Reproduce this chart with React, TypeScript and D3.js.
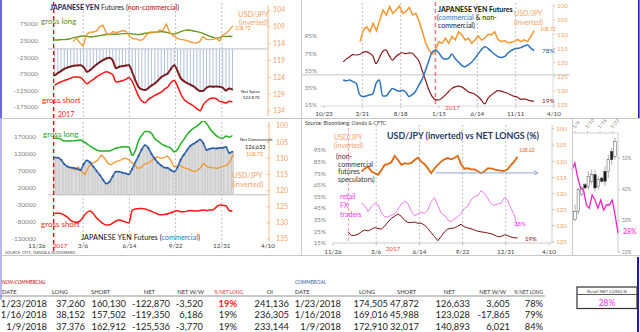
import React from "react";
import * as d3 from "d3";

const FONT = "Lato, 'Liberation Sans', Arial, sans-serif";
const parse = d3.timeParse("%Y-%m-%d") as (s: string) => Date;
const fmtMD = d3.timeFormat("%-m/%-d");

// ---------- NON-COMMERCIAL (weekly, thousands of contracts) ----------
const ncWeekStart = "2017-01-03";
const ncNet = [-80, -73, -67, -60, -56, -53, -51, -50, -49, -55, -69, -64, -55, -47, -40, -34, -29, -27, -35, -58, -54, -52, -50, -49, -70, -95, -115, -122, -124, -118, -110, -104, -95, -85, -79, -74, -60, -49, -66, -88, -97, -103, -108, -113, -121, -127, -126, -117, -113, -114, -113, -114, -117, -125.5, -119.4, -122.9];
const ncShort = [-110, -104, -99, -95, -92, -88, -85, -85, -86, -95, -105, -98, -92, -84, -78, -73, -69, -72, -78, -100, -98, -96, -92, -86, -98, -120, -143, -157, -162, -152, -146, -140, -135, -130, -121, -115, -101, -95, -112, -135, -152, -160, -166, -172, -180, -186, -168, -157, -150, -148, -150, -158, -160, -162.9, -157.5, -160.1];
const ncLong = [27, 27, 28, 28, 29, 31, 34, 36, 38, 39, 38, 36, 37, 38, 40, 42, 43, 44, 44, 44, 45, 46, 46, 46, 45, 44, 43, 45, 47, 48, 49, 50, 51, 52, 51, 49, 46, 45, 48, 52, 55, 57, 56, 54, 52, 50, 46, 42, 38, 35, 32, 34, 38, 37.4, 38.2, 37.3];
const ncUsdJpyRange = ["2017-02-12", "2018-01-24"];
const ncUsdJpy = [113.4, 112.4, 113.7, 114.7, 111.4, 110.6, 110.6, 110.3, 109.0, 108.5, 110.9, 111.4, 110.4, 110.7, 110.4, 110.1, 110.4, 111.9, 112.6, 112.6, 113.0, 112.8, 111.4, 110.6, 110.5, 110.7, 109.9, 110.1, 108.2, 110.6, 111.6, 112.2, 112.7, 112.8, 113.0, 113.4, 113.7, 113.8, 113.4, 111.9, 112.7, 112.8, 112.7, 112.4, 113.2, 111.4, 110.9, 109.9, 108.7];

// ---------- COMMERCIAL (weekly, thousands) ----------
const cmNet = [110, 109, 103, 90, 83, 80, 79, 76, 73, 90, 101, 95, 83, 70, 58, 44, 33, 38, 55, 68, 68, 65, 63, 60, 76, 96, 115, 134, 146, 138, 120, 106, 94, 86, 80, 79, 72, 68, 80, 103, 118, 132, 144, 150, 156, 162, 152, 132, 135, 137, 136, 138, 138, 140.9, 123.0, 126.6];
const cmLong = [166, 166, 163, 158, 158, 158, 159, 160, 161, 156, 150, 143, 137, 132, 129, 129, 129, 129, 133, 137, 139, 141, 141, 140, 116, 130, 160, 175, 186, 186, 180, 165, 158, 150, 145, 141, 137, 126, 133, 150, 163, 177, 188, 196, 202, 210, 218, 210, 195, 183, 174, 168, 166, 172.9, 169.0, 174.5];
const cmShort = [-54, -54, -55, -60, -66, -75, -80, -81, -76, -63, -52, -48, -56, -68, -77, -85, -89, -88, -83, -77, -74, -77, -80, -83, -46, -42, -41, -40, -42, -45, -49, -53, -57, -59, -58, -56, -53, -49, -47, -50, -50, -48, -46, -47, -48, -46, -45, -46, -45, -44, -36, -30, -31, -32.0, -46.0, -47.9];
const cmUsdJpyRange = ["2017-02-09", "2018-01-25"];
const cmUsdJpy = [113.1, 113.6, 112.6, 114.1, 115.0, 112.9, 111.6, 111.2, 110.5, 109.0, 110.0, 111.6, 112.0, 111.2, 110.9, 110.5, 109.9, 110.3, 111.0, 112.0, 113.1, 112.9, 111.9, 111.5, 111.0, 110.0, 109.5, 110.0, 109.8, 109.3, 110.5, 112.6, 112.3, 112.3, 112.9, 113.2, 113.6, 114.1, 113.8, 113.0, 111.6, 112.6, 112.8, 113.0, 113.1, 112.8, 112.4, 112.1, 111.0, 108.7];

// ---------- TOP RIGHT: % net long, 2016-2018 ----------
const trRange = ["2016-01-06", "2018-01-22"];
const trNonComm = [65, 68.5, 71, 73.5, 73, 73.5, 76, 77, 75, 72, 63, 69.8, 77, 78.8, 72, 67, 71, 74, 75.6, 74.5, 75.5, 75, 71, 66, 55, 44, 33, 25, 21.3, 20.8, 23, 26.5, 30.4, 34, 36, 37, 36, 33.5, 30.4, 29, 27.5, 24.6, 20.8, 16.2, 22.8, 26.5, 29.5, 31.6, 31, 29.8, 28.6, 26.5, 25, 24, 21.5, 22, 21, 19.8, 19.4];
const trComm = [44, 43, 44, 42, 40, 27, 24.6, 25.5, 26.5, 28, 40, 44, 25.4, 25.4, 30, 34, 32.4, 31, 32, 30, 25, 27, 31, 38, 45, 55, 66, 76, 78.5, 76, 70, 68, 69, 74, 69, 65, 61, 59.4, 61.5, 64.5, 69, 74, 79, 82.6, 80.7, 77, 74, 71, 70, 71, 75, 78, 80, 80.7, 81.5, 83.5, 84.6, 81, 78];
const trUsdJpyRange = ["2016-03-12", "2018-01-22"];
const trUsdJpy = [112.6, 108.5, 107.3, 109.1, 106.1, 108.8, 105, 101.4, 103.2, 100.2, 102.6, 101.4, 100.0, 102.6, 102.0, 100.5, 103.2, 102.6, 105.5, 109.1, 113.2, 115.5, 117.0, 115.5, 112.6, 113.2, 111.4, 113.2, 110.8, 112.0, 109.1, 110.2, 112.0, 111.4, 113.2, 112.0, 110.6, 112.0, 111.4, 110.0, 110.2, 109.1, 111.8, 112.6, 112.2, 113.0, 112.8, 112.6, 111.8, 112.6, 112.0, 112.6, 110.8, 108.7];

// ---------- BOTTOM RIGHT: USD/JPY vs net longs ----------
const brRange = ["2017-01-31", "2018-01-27"];
const brUsdJpy = [113.2, 112.2, 111.7, 113.2, 113.7, 114.2, 112.7, 111.1, 110.8, 110.3, 108.3, 109.6, 111.1, 110.6, 110.8, 110.5, 109.6, 108.9, 110.1, 110.9, 112.2, 113.7, 112.2, 111.1, 110.1, 109.4, 109.0, 109.4, 109.0, 108.3, 110.9, 112.3, 112.1, 112.5, 112.5, 113.0, 113.7, 113.2, 112.2, 112.2, 112.5, 112.7, 113.0, 113.0, 112.5, 111.2, 110.1, 108.6];
const brRetail = [49.1, 47, 42, 46.2, 49, 48, 41, 37.5, 37.5, 39, 40, 44, 48.5, 51, 49, 42.5, 38.3, 40, 41.5, 40.5, 43.4, 50.6, 54, 47.5, 40.5, 39, 34.8, 33.4, 35.9, 37.5, 40.5, 44.8, 46.5, 52, 55, 55.5, 60, 58, 53.5, 49, 47.5, 48.5, 49, 54, 52, 45, 39.5, 29];
const brNonCommRange = ["2016-12-31", "2018-01-27"];
const brNonComm = [24.7, 21.3, 21.7, 22.5, 24.7, 26.2, 25.4, 26.8, 28.3, 27.5, 26.9, 29.5, 33, 36.2, 38, 40, 38, 34.5, 32.7, 32.7, 33, 32, 32, 30.5, 27.5, 24, 20.5, 17, 20.5, 24.5, 27, 27.6, 28, 29.5, 31.1, 29, 28, 27.3, 26.2, 25.2, 24.6, 24.2, 23.6, 23, 21.9, 20.5, 20.5, 22, 21.5, 20.2, 19.5, 19.4];
const arrowStart = "2017-07-22";
const arrowEnd = "2018-03-15";
const arrowLevel = 113.6;

// ---------- CANDLE INSET (January 2018) ----------
const insetDates = ["1/4", "1/10", "1/16", "1/22"];
const insetRetail = [48.2, 50.4, 45.6, 42.4, 41.8, 37, 36, 40.2, 38.6, 36, 38.6, 35.4, 37, 37, 38.6, 33.8, 28];
const candleBodyLo = [113.0, 111.7, 111.6, 111.4, 110.9, 110.8, 110.8, 111.1, 111.0, 110.6, 109.9, 109.4, 108.8];
const candleBodyHi = [113.5, 113.0, 112.0, 111.6, 111.5, 111.2, 111.6, 111.5, 111.2, 111.2, 110.6, 109.9, 109.7];
const candleWickLo = [112.6, 111.6, 111.5, 111.3, 110.6, 110.5, 110.5, 110.9, 110.9, 110.3, 109.6, 109.2, 108.6];
const candleWickHi = [113.6, 113.2, 112.1, 111.7, 111.7, 111.4, 111.8, 111.7, 111.3, 111.5, 111.0, 110.2, 109.9];
const candleDark = [false, false, false, true, false, false, true, false, true, true, false, true, false];
const insetPctTicks = [52, 42, 32, 22];

// ---------- TABLE ----------
const tblDates = ["1/23/2018", "1/16/2018", "1/9/2018"];
const ncTLong = ["37,260", "38,152", "37,376"];
const ncTShort = ["160,130", "157,502", "162,912"];
const ncTNet = ["-122,870", "-119,350", "-125,536"];
const ncTWoW = ["-3,520", "6,186", "-3,770"];
const ncTPct = ["19%", "19%", "19%"];
const ncTOI = ["241,136", "236,305", "233,144"];
const cmTLong = ["174,505", "169,016", "172,910"];
const cmTShort = ["47,872", "45,988", "32,017"];
const cmTNet = ["126,633", "123,028", "140,893"];
const cmTWoW = ["3,605", "-17,865", "6,021"];
const cmTPct = ["78%", "79%", "84%"];
const retailNetLong = "28%";

// ---------- AXIS TICKS ----------
const tlLeftTicks = [75, 25, -25, -75, -125, -175];
const tlRightTicks = [104, 109, 114, 119, 124, 129, 134];
const blLeftTicks = [170, 120, 70, 20, -30, -80, -130];
const blRightTicks = [100, 105, 110, 115, 120, 125, 130, 135];
const pctTicks = [95, 75, 55, 35, 15];
const pctTicks10 = [95, 85, 75, 65, 55, 45, 35, 25, 15];
const jpyTicks = [100, 105, 110, 115, 120, 125, 130, 135];
const dateTicks1 = ["2016-11-26", "2017-03-06", "2017-06-14", "2017-09-22", "2017-12-31", "2018-04-10"];
const grid1 = ["2017-03-06", "2017-06-14", "2017-09-22", "2017-12-31"];
const dateTicks2 = ["2015-10-23", "2016-03-21", "2016-08-18", "2017-01-15", "2017-06-14", "2017-11-11", "2018-04-10"];
const grid2 = ["2016-03-21", "2016-08-18", "2017-06-14", "2017-11-11"];
const yearStart = "2017-01-01";

const spread = (range: string[], n: number) => {
  const t0 = +parse(range[0]);
  const t1 = +parse(range[1]);
  return d3.range(n).map((i) => new Date(t0 + ((t1 - t0) * i) / (n - 1)));
};
const weeks = d3.range(ncNet.length).map((i) => d3.timeDay.offset(parse(ncWeekStart), 7 * i));

function path(xs: Date[], ys: number[], x: any, y: any, curve: any = d3.curveLinear) {
  return d3.line<number>().x((_, i) => x(xs[i])).y((v) => y(v)).curve(curve)(ys) || "";
}

const GRAY = "#7f7f7f";
const ORANGE_LBL = "#f4a468";
const ORANGE = "#f7962f";

export default function App() {
  const xTL = d3.scaleTime().domain([parse("2016-11-26"), parse("2018-04-10")]).range([37, 268]);
  const yTL = d3.scaleLinear().domain([-175, 75]).range([107, 24]);
  const yTLr = d3.scaleLinear().domain([104, 134]).range([10, 111]);
  const yBL = d3.scaleLinear().domain([-130, 170]).range([239, 137]);
  const yBLr = d3.scaleLinear().domain([100, 135]).range([126, 239]);
  const xTR = d3.scaleTime().domain([parse("2015-10-23"), parse("2018-04-10")]).range([324, 554]);
  const yTR = d3.scaleLinear().domain([15, 95]).range([105, 36]);
  const yTRr = d3.scaleLinear().domain([100, 135]).range([6, 105]);
  const xBR = d3.scaleTime().domain([parse("2016-11-26"), parse("2018-04-10")]).range([333, 549]);
  const yBR = d3.scaleLinear().domain([15, 95]).range([243, 150]);
  const yBRr = d3.scaleLinear().domain([100, 135]).range([129, 242]);
  const xC = d3.scaleBand<number>().domain(d3.range(candleBodyLo.length)).range([573, 617]).padding(0.22);
  const yC = d3.scaleLinear().domain([108, 114]).range([128, 228]);
  const yCp = d3.scaleLinear().domain([22, 52]).range([252, 158]);
  const xCr = d3.scaleLinear().domain([0, insetRetail.length - 1]).range([572, 618]);

  const ncOrangeDates = spread(ncUsdJpyRange, ncUsdJpy.length);
  const cmOrangeDates = spread(cmUsdJpyRange, cmUsdJpy.length);
  const trDates = spread(trRange, trNonComm.length);
  const trOrangeDates = spread(trUsdJpyRange, trUsdJpy.length);
  const brDates = spread(brRange, brUsdJpy.length);
  const brNcDates = spread(brNonCommRange, brNonComm.length);

  const ys = parse(yearStart);
  const rowY = [306.5, 318.2, 329.5];

  return (
    <svg width={640} height={332} style={{ position: "absolute", left: 0, top: 0, background: "#fff" }} fontFamily={FONT}>
      <defs>
        <clipPath id="blclip"><rect x={30} y={121} width={250} height={130} /></clipPath>
        <marker id="arr" viewBox="0 0 10 10" refX={9} refY={5} markerWidth={5} markerHeight={5} orient="auto">
          <path d="M0,0 L10,5 L0,10" fill="none" stroke="#7f9cc8" strokeWidth={1.5} />
        </marker>
      </defs>
      <rect width={640} height={332} fill="#fff" />

      {/* ================= TOP LEFT ================= */}
      <g>
        {grid1.map((d) => (
          <line key={d} x1={xTL(parse(d))} x2={xTL(parse(d))} y1={3} y2={117} stroke="#b0b0b0" strokeDasharray="2,2" strokeWidth={0.8} />
        ))}
        <line x1={48} x2={268} y1={yTL(0)} y2={yTL(0)} stroke="#bdbdbd" strokeWidth={1} />
        {weeks.map((d, i) => (
          <line key={i} x1={xTL(d)} x2={xTL(d)} y1={yTL(0)} y2={yTL(ncNet[i])} stroke="#b2c0dc" strokeWidth={1} />
        ))}
        <line x1={xTL(ys)} x2={xTL(ys)} y1={2} y2={118} stroke="#e01010" strokeWidth={1.4} strokeDasharray="4,3" />
        <path d={path(weeks, ncLong, xTL, yTL, d3.curveMonotoneX)} fill="none" stroke="#6a961f" strokeWidth={1.4} />
        <path d={path(ncOrangeDates, ncUsdJpy, xTL, yTLr)} fill="none" stroke={ORANGE} strokeWidth={1.3} />
        <path d={path(weeks, ncShort, xTL, yTL, d3.curveMonotoneX)} fill="none" stroke="#ff1414" strokeWidth={1.5} />
        <path d={path(weeks, ncNet, xTL, yTL, d3.curveMonotoneX)} fill="none" stroke="#8c1c1c" strokeWidth={2} />
        {weeks.map((d, i) => (
          <circle key={i} cx={xTL(d)} cy={yTL(ncNet[i])} r={0.7} fill="#2a2a44" />
        ))}
        <line x1={268} x2={268} y1={5} y2={116} stroke="#f6b98a" strokeWidth={1} />
        {tlRightTicks.map((t) => (
          <g key={t}>
            <line x1={268} x2={270.5} y1={yTLr(t)} y2={yTLr(t)} stroke="#f6b98a" />
            <text x={273} y={yTLr(t) + 2.4} fontSize={7} fill={ORANGE_LBL}>{t}</text>
          </g>
        ))}
        {tlLeftTicks.map((t) => (
          <text key={t} x={38} y={yTL(t) + 2.3} fontSize={6.3} fill={GRAY} textAnchor="end">{String(t * 1000)}</text>
        ))}
        <text x={50} y={10} fontSize={7}>
          <tspan fill="#1c2550" fontWeight="bold">JAPANESE YEN </tspan>
          <tspan fill="#222">Futures (</tspan>
          <tspan fill="#c00000">non-commercial</tspan>
          <tspan fill="#222">)</tspan>
        </text>
        <text x={41} y={24} fontSize={8} fill="#5a8a1a">gross long</text>
        <text x={42} y={102.5} fontSize={8} fill="#ff2020">gross short</text>
        <text x={58} y={116.5} fontSize={7} fill="#ff2020">2017</text>
        <text x={238} y={16.5} fontSize={7.5} fill={ORANGE_LBL}>USD/JPY</text>
        <text x={239} y={24.5} fontSize={7} fill={ORANGE_LBL}>(inverted)</text>
        <text x={235} y={30} fontSize={5} fill={ORANGE}>108.72</text>
        <text x={241} y={93} fontSize={4.3} fill="#222">Net Specs</text>
        <text x={241} y={99} fontSize={4.5} fill="#222">-122,870</text>
      </g>

      {/* ================= TOP RIGHT ================= */}
      <g>
        {grid2.map((d) => (
          <line key={d} x1={xTR(parse(d))} x2={xTR(parse(d))} y1={3} y2={106} stroke="#b0b0b0" strokeDasharray="2,2" strokeWidth={0.8} />
        ))}
        <line x1={302} x2={570} y1={yTR(50)} y2={yTR(50)} stroke="#c4c4c4" strokeWidth={1} />
        <line x1={320} x2={553} y1={106} y2={106} stroke="#d0d0d0" strokeWidth={0.8} />
        {dateTicks2.map((d) => (
          <line key={d} x1={xTR(parse(d))} x2={xTR(parse(d))} y1={106} y2={108} stroke="#c0c0c0" />
        ))}
        <line x1={xTR(ys)} x2={xTR(ys)} y1={2} y2={106} stroke="#f08080" strokeWidth={1.6} strokeDasharray="4,3" />
        <path d={path(trOrangeDates, trUsdJpy, xTR, yTRr)} fill="none" stroke={ORANGE} strokeWidth={1.5} />
        <path d={path(trDates, trNonComm, xTR, yTR, d3.curveMonotoneX)} fill="none" stroke="#8b1a1a" strokeWidth={1.2} />
        <path d={path(trDates, trComm, xTR, yTR, d3.curveMonotoneX)} fill="none" stroke="#2e73bf" strokeWidth={1.5} />
        <line x1={553} x2={553} y1={4} y2={106} stroke="#d0d0d0" strokeWidth={0.8} />
        {jpyTicks.map((t) => (
          <g key={t}>
            <line x1={553} x2={555.5} y1={yTRr(t)} y2={yTRr(t)} stroke="#d0d0d0" />
            <text x={557} y={yTRr(t) + 2.3} fontSize={6.3} fill={ORANGE_LBL}>{t}</text>
          </g>
        ))}
        {pctTicks.map((t) => (
          <text key={t} x={317} y={yTR(t) + 2.3} fontSize={6.3} fill={GRAY} textAnchor="end">{t}%</text>
        ))}
        {dateTicks2.map((d) => (
          <text key={d} x={xTR(parse(d))} y={115.5} fontSize={6.3} fill="#404040" textAnchor="middle">{fmtMD(parse(d))}</text>
        ))}
        <text x={438} y={11.5} fontSize={7} fill="#111" fontWeight="bold">JAPANESE YEN Futures</text>
        <text x={437} y={19.8} fontSize={7} fill="#111">(<tspan fill="#2e73bf">commercial</tspan> &amp; non-</text>
        <text x={438} y={28} fontSize={7} fill="#111">commercial)</text>
        <text x={514} y={16} fontSize={7} fill={ORANGE_LBL}>USD/JPY</text>
        <text x={514} y={24.5} fontSize={7} fill={ORANGE_LBL}>(inverted)</text>
        <text x={540} y={30.5} fontSize={5} fill={ORANGE}>108.72</text>
        <text x={542} y={53} fontSize={6.5} fill="#2e5a9c">78%</text>
        <text x={542} y={103} fontSize={6.5} fill="#8b1a1a">19%</text>
        <text x={445} y={110} fontSize={6.5} fill="#f05050">2017</text>
      </g>

      {/* ================= BOTTOM LEFT ================= */}
      <g>
        {grid1.map((d) => (
          <line key={d} x1={xTL(parse(d))} x2={xTL(parse(d))} y1={122} y2={244} stroke="#b0b0b0" strokeDasharray="2,2" strokeWidth={0.8} />
        ))}
        <line x1={48} x2={269} y1={yBL(0)} y2={yBL(0)} stroke="#bdbdbd" strokeWidth={1} />
        {weeks.map((d, i) => (
          <rect key={i} x={xTL(d) - 1.2} width={2.4} y={yBL(cmNet[i])} height={yBL(0) - yBL(cmNet[i])} fill="#dddddd" stroke="#9a9a9a" strokeWidth={0.3} />
        ))}
        <line x1={xTL(ys)} x2={xTL(ys)} y1={121} y2={252} stroke="#e01010" strokeWidth={1.4} strokeDasharray="4,3" />
        <g clipPath="url(#blclip)">
          <path d={path(weeks, cmLong, xTL, yBL, d3.curveMonotoneX)} fill="none" stroke="#22b022" strokeWidth={1.5} />
        </g>
        <path d={path(cmOrangeDates, cmUsdJpy, xTL, yBLr)} fill="none" stroke={ORANGE} strokeWidth={1.3} />
        <path d={path(weeks, cmShort, xTL, yBL, d3.curveMonotoneX)} fill="none" stroke="#ff1414" strokeWidth={1.5} />
        <path d={path(weeks, cmNet, xTL, yBL, d3.curveMonotoneX)} fill="none" stroke="#3a70b8" strokeWidth={1.8} />
        {weeks.map((d, i) => (
          <circle key={i} cx={xTL(d)} cy={yBL(cmNet[i])} r={0.7} fill="#1d3d7a" />
        ))}
        <line x1={269} x2={269} y1={122} y2={241} stroke="#f6b98a" strokeWidth={1} />
        {blRightTicks.map((t) => (
          <g key={t}>
            <line x1={266.5} x2={269} y1={yBLr(t)} y2={yBLr(t)} stroke="#f6b98a" />
            <text x={276} y={yBLr(t) + 2.4} fontSize={7} fill={ORANGE_LBL}>{t}</text>
          </g>
        ))}
        {blLeftTicks.map((t) => (
          <text key={t} x={36} y={yBL(t) + 2.3} fontSize={6.3} fill={GRAY} textAnchor="end">{String(t * 1000)}</text>
        ))}
        {dateTicks1.map((d) => (
          <text key={d} x={xTL(parse(d))} y={247.5} fontSize={6.3} fill="#404040" textAnchor="middle">{fmtMD(parse(d))}</text>
        ))}
        <text x={60} y={247.5} fontSize={6.3} fill="#ff2020" textAnchor="middle">2017</text>
        <text x={43} y={136.5} fontSize={8} fill="#2ca02c">gross long</text>
        <text x={41} y={227} fontSize={8} fill="#ff2020">gross short</text>
        <text x={240} y={140.5} fontSize={4.3} fill="#222">Net Commercials</text>
        <text x={245} y={148.5} fontSize={5.5} fill="#222">126,633</text>
        <text x={246} y={156} fontSize={5.5} fill={ORANGE}>108.72</text>
        <text x={232} y={178} fontSize={7.5} fill={ORANGE_LBL}>USD/JPY</text>
        <text x={232} y={186.5} fontSize={7.5} fill={ORANGE_LBL}>(inverted)</text>
        <text x={81} y={239.5} fontSize={7.3} fill="#111">
          JAPANESE YEN Futures (<tspan fill="#2e73bf">commercial</tspan>)
        </text>
        <text x={5} y={253.5} fontSize={3.8} fill="#555">SOURCE: CFTC, OANDA &amp; BLOOMBERG</text>
      </g>

      {/* ================= BOTTOM RIGHT ================= */}
      <g>
        {grid1.map((d) => (
          <line key={d} x1={xBR(parse(d))} x2={xBR(parse(d))} y1={125} y2={243} stroke="#b0b0b0" strokeDasharray="2,2" strokeWidth={0.8} />
        ))}
        <line x1={xBR(ys)} x2={xBR(ys)} y1={128} y2={243} stroke="#f4a0a0" strokeWidth={1} strokeDasharray="3,2" />
        <line x1={333} x2={552} y1={243} y2={243} stroke="#bfbfbf" strokeWidth={0.8} />
        {dateTicks1.map((d) => (
          <line key={d} x1={xBR(parse(d))} x2={xBR(parse(d))} y1={243} y2={245.5} stroke="#bfbfbf" />
        ))}
        <line x1={552} x2={552} y1={125} y2={243} stroke="#bfbfbf" strokeWidth={0.8} />
        {jpyTicks.map((t) => (
          <g key={t}>
            <line x1={552} x2={554.5} y1={yBRr(t)} y2={yBRr(t)} stroke="#bfbfbf" />
            <text x={556} y={yBRr(t) + 2.3} fontSize={6.3} fill={ORANGE_LBL}>{t}</text>
          </g>
        ))}
        {pctTicks10.map((t) => (
          <text key={t} x={326} y={yBR(t) + 2.3} fontSize={6.3} fill={GRAY} textAnchor="end">{t}%</text>
        ))}
        {dateTicks1.map((d) => (
          <text key={d} x={xBR(parse(d))} y={253.5} fontSize={6.3} fill="#404040" textAnchor="middle">{fmtMD(parse(d))}</text>
        ))}
        <text x={393} y={251} fontSize={6.3} fill="#ff4040" textAnchor="middle">2017</text>
        <path d={path(brDates, brRetail, xBR, yBR)} fill="none" stroke="#f27cf0" strokeWidth={1} />
        <path d={path(brNcDates, brNonComm, xBR, yBR)} fill="none" stroke="#7b1010" strokeWidth={1} />
        <path d={path(brDates, brUsdJpy, xBR, yBRr)} fill="none" stroke="#e2670c" strokeWidth={1.8} />
        <line x1={xBR(parse(arrowStart))} x2={xBR(parse(arrowEnd))} y1={yBRr(arrowLevel)} y2={yBRr(arrowLevel)} stroke="#8fa8d0" strokeWidth={1} markerEnd="url(#arr)" />
        <text x={305} y={124.5} fontSize={5.3} fill="#444">Source: Bloomberg, Oanda &amp; CFTC</text>
        <text x={387} y={138.5} fontSize={9} fill="#1f3864" fontWeight="bold" textLength={152} lengthAdjust="spacingAndGlyphs">USD/JPY (inverted) vs NET LONGS (%)</text>
        <text x={334} y={140} fontSize={7} fill="#f4a070">USD/JPY</text>
        <text x={334} y={148} fontSize={7} fill="#f4a070">(inverted)</text>
        <text x={336} y={159} fontSize={7} fill="#333">(non-</text>
        <text x={338} y={166.5} fontSize={7} fill="#333">commercial</text>
        <text x={338} y={174} fontSize={7} fill="#333">futures</text>
        <text x={338} y={181.5} fontSize={7} fill="#333">speculators)</text>
        <text x={340} y={198.5} fontSize={7} fill="#ff33ff">retail</text>
        <text x={340} y={207.5} fontSize={7} fill="#ff33ff">FX</text>
        <text x={340} y={217} fontSize={7} fill="#ff33ff">traders</text>
        <text x={519} y={152} fontSize={5} fill="#e2670c">108.62</text>
        <text x={514} y={226} fontSize={6} fill="#ff33ff">28%</text>
        <text x={525} y={241} fontSize={6} fill="#7b1010">19%</text>
      </g>

      {/* ================= CANDLE INSET ================= */}
      <g>
        <line x1={573} x2={618} y1={133} y2={133} stroke="#bfbfbf" strokeWidth={0.8} />
        {insetDates.map((t, i) => {
          const x = 575 + i * 12.5;
          return (
            <g key={t}>
              <line x1={x} x2={x} y1={131} y2={133} stroke="#bfbfbf" />
              <text x={x} y={129} fontSize={5} fill={GRAY} transform={`rotate(-50 ${x} 129)`}>{t}</text>
            </g>
          );
        })}
        <line x1={618} x2={618} y1={133} y2={253} stroke="#bfbfbf" strokeWidth={0.8} />
        {insetPctTicks.map((t) => (
          <g key={t}>
            <line x1={618} x2={620} y1={yCp(t)} y2={yCp(t)} stroke="#bfbfbf" />
            <text x={622} y={yCp(t) + 1.8} fontSize={4.8} fill={GRAY}>{t}%</text>
          </g>
        ))}
        {candleBodyLo.map((_, i) => {
          const cx = (xC(i) as number) + xC.bandwidth() / 2;
          return (
            <g key={i}>
              <line x1={cx} x2={cx} y1={yC(candleWickLo[i])} y2={yC(candleWickHi[i])} stroke="#8a8a8a" strokeWidth={0.7} />
              <rect x={xC(i)} width={xC.bandwidth()} y={yC(candleBodyLo[i])} height={Math.max(1, yC(candleBodyHi[i]) - yC(candleBodyLo[i]))} fill={candleDark[i] ? "#1a1a1a" : "#ffffff"} stroke="#555" strokeWidth={0.5} />
            </g>
          );
        })}
        <path d={d3.line<number>().x((_, i) => xCr(i)).y((v) => yCp(v))(insetRetail) || ""} fill="none" stroke="#ee22cc" strokeWidth={1.3} />
        <text x={623} y={233.5} fontSize={7} fill="#ff22cc">28%</text>
      </g>

      {/* ================= FRAMES ================= */}
      <line x1={301.5} x2={301.5} y1={0} y2={255} stroke="#c8c8c8" />
      <line x1={0} x2={640} y1={118.5} y2={118.5} stroke="#c8c8c8" />
      <line x1={0} x2={640} y1={255.5} y2={255.5} stroke="#c8c8c8" />
      <line x1={572.5} x2={572.5} y1={118} y2={255} stroke="#c8c8c8" />
      <line x1={1} x2={1} y1={0} y2={118} stroke="#6a6ad8" strokeWidth={2} />
      <line x1={1} x2={1} y1={118} y2={300} stroke="#b8b8ee" strokeWidth={2} />
      <line x1={638.8} x2={638.8} y1={0} y2={118} stroke="#1c1cb0" strokeWidth={1.6} />
      <line x1={638} x2={638} y1={257} y2={332} stroke="#1c1cb0" strokeWidth={2} />

      {/* ================= TABLE ================= */}
      <g fill="#222">
        <text x={2} y={284} fontSize={5} fill="#c00000" fontStyle="italic">NON-COMMERCIAL</text>
        <text x={295} y={284} fontSize={5} fill="#2e5a9c" fontStyle="italic">COMMERCIAL</text>
        <g fontSize={5.8} fill="#333">
          <text x={2} y={294}>DATE</text>
          <text x={52} y={294}>LONG</text>
          <text x={91} y={294}>SHORT</text>
          <text x={155} y={294} textAnchor="end">NET</text>
          <text x={204} y={294} textAnchor="end">NET W/W</text>
          <text x={243} y={294} textAnchor="end" fontSize={4.8} fill="#e03030">% NET LONG</text>
          <text x={273} y={294} textAnchor="end">OI</text>
          <text x={295} y={294}>DATE</text>
          <text x={359} y={294}>LONG</text>
          <text x={397} y={294}>SHORT</text>
          <text x={455} y={294} textAnchor="end">NET</text>
          <text x={506} y={294} textAnchor="end">NET W/W</text>
          <text x={543} y={294} textAnchor="end" fontSize={4.8}>% NET LONG</text>
        </g>
        <line x1={0} x2={545} y1={296} y2={296} stroke="#666" strokeWidth={0.7} />
        <g fontSize={9.3} textAnchor="end">
          {tblDates.map((d, i) => (
            <g key={i}>
              <text x={47} y={rowY[i]}>{d}</text>
              <text x={85} y={rowY[i]}>{ncTLong[i]}</text>
              <text x={126} y={rowY[i]}>{ncTShort[i]}</text>
              <text x={170} y={rowY[i]}>{ncTNet[i]}</text>
              <text x={203} y={rowY[i]}>{ncTWoW[i]}</text>
              <text x={237} y={rowY[i]} fill={i === 0 ? "#ff2020" : "#222"} fontWeight={i === 0 ? "bold" : "normal"}>{ncTPct[i]}</text>
              <text x={289} y={rowY[i]}>{ncTOI[i]}</text>
              <text x={341} y={rowY[i]}>{d}</text>
              <text x={388} y={rowY[i]}>{cmTLong[i]}</text>
              <text x={419} y={rowY[i]}>{cmTShort[i]}</text>
              <text x={470} y={rowY[i]}>{cmTNet[i]}</text>
              <text x={510} y={rowY[i]}>{cmTWoW[i]}</text>
              <text x={543} y={rowY[i]}>{cmTPct[i]}</text>
            </g>
          ))}
        </g>
        <rect x={577} y={287} width={60} height={21.5} fill="none" stroke="#333" strokeWidth={1.2} />
        <line x1={577} x2={637} y1={294.5} y2={294.5} stroke="#333" strokeWidth={0.8} />
        <text x={607} y={292.6} fontSize={4.6} fill="#444" textAnchor="middle">Retail NET LONG %</text>
        <text x={607} y={305.5} fontSize={8.5} fill="#ff33ee" textAnchor="middle">{retailNetLong}</text>
      </g>
    </svg>
  );
}
